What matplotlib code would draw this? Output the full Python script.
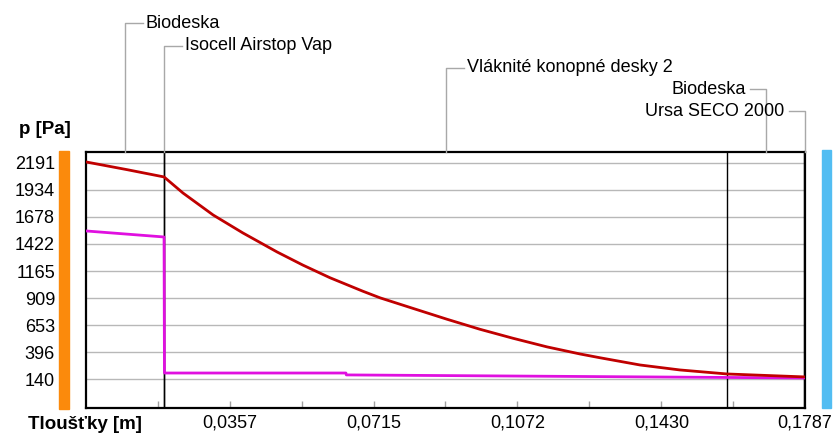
import matplotlib
matplotlib.use("Agg")
import matplotlib.pyplot as plt
from matplotlib.lines import Line2D
import numpy as np

plt.rcParams['font.family'] = ['Liberation Sans Narrow', 'Liberation Sans', 'DejaVu Sans']

# Layers (name, thickness in m)
layer_names = ["Biodeska", "Isocell Airstop Vap", "Vláknité konopné desky 2", "Biodeska", "Ursa SECO 2000"]
layer_thick = [0.0193, 0.0002, 0.1398, 0.0192, 0.0002]

# Saturated vapour pressure (red)
psat_x = [0.0, 0.0102, 0.0194, 0.0241, 0.0316, 0.0390, 0.0475, 0.0539, 0.0606, 0.0688,
          0.0731, 0.0813, 0.0897, 0.0979, 0.1061, 0.1146, 0.1228, 0.1278, 0.1377,
          0.1476, 0.1593, 0.1787]
psat_y = [2198, 2125, 2056, 1904, 1696, 1526, 1346, 1222, 1103, 975,
          912, 812, 710, 615, 530, 448, 381, 345, 277,
          230, 192, 164]

# Partial vapour pressure (magenta)
p_x = [0.0, 0.0102, 0.0194, 0.0195, 0.0646, 0.0647, 0.1787]
p_y = [1545, 1515, 1488, 201, 201, 183, 154]

y_ticks = [140, 396, 653, 909, 1165, 1422, 1678, 1934, 2191]
x_ticks = [0.0357, 0.0715, 0.1072, 0.1430, 0.1787]
x_tick_labels = ["0,0357", "0,0715", "0,1072", "0,1430", "0,1787"]
x_minor = [0.01787 * i for i in range(1, 10)]

W, H = 833, 436
fig = plt.figure(figsize=(W / 100, H / 100), dpi=100)
L, R, T, B = 86, 805, 152, 408
ax = fig.add_axes([L / W, 1 - B / H, (R - L) / W, (B - T) / H])
ax.set_xlim(0, 0.1787)
ax.set_ylim(-130, 2292)

for v in y_ticks:
    ax.axhline(v, color="#b8b8b8", lw=1.0, zorder=1)

bounds = np.cumsum(layer_thick)
for b in bounds[:-1]:
    ax.axvline(b, color="black", lw=1.0, zorder=2)

ax.plot(psat_x, psat_y, color="#c00000", lw=2.0, zorder=4, solid_joinstyle="round")
ax.plot(p_x, p_y, color="#e010e0", lw=2.0, zorder=3)

for s in ax.spines.values():
    s.set_linewidth(1.6)
    s.set_color("black")

ax.set_yticks([])
ax.set_xticks(x_minor)
ax.set_xticklabels([])
ax.tick_params(axis="x", direction="in", length=5, color="#a0a0a0", width=1)

def fx(xd):
    return L + xd / 0.1787 * (R - L)

def fig_pt(px, py):
    return px / W, 1 - py / H

# y tick labels (placed right-aligned left of the orange bar)
for v in y_ticks:
    py = B - (v + 130) / (2292 + 130) * (B - T)
    fig.text(*fig_pt(55, py + 2), str(v), ha="right", va="center", fontsize=13)

# x tick labels
for xv, lab in zip(x_ticks, x_tick_labels):
    X, Y = fig_pt(fx(xv), 423)
    fig.text(X, Y, lab, ha="center", va="center", fontsize=13)

fig.text(*fig_pt(85, 424), "Tloušťky [m]", ha="center", va="center", fontsize=13.5, fontweight="bold")
fig.text(*fig_pt(45, 130), "p [Pa]", ha="center", va="center", fontsize=13.5, fontweight="bold")

# side colour bars
fig.patches.append(plt.Rectangle(fig_pt(59, 409), 10 / W, 258 / H, transform=fig.transFigure,
                                 color="#fb8a0c", zorder=0))
fig.patches.append(plt.Rectangle(fig_pt(822, 408), 9 / W, 258 / H, transform=fig.transFigure,
                                 color="#52bdf2", zorder=0))

# layer leaders
starts = np.concatenate([[0], bounds[:-1]])
mids = [(s + t / 2) for s, t in zip(starts, layer_thick)]
leader_y = [23, 46, 68, 89, 111]
leader_side = ["r", "r", "r", "l", "l"]
gray = "#a8a8a8"
for name, m, ly, side in zip(layer_names, mids, leader_y, leader_side):
    x0 = fx(m)
    if side == "r":
        xs = [x0, x0, x0 + 18]
        tx, ha = x0 + 21, "left"
    else:
        xs = [x0, x0, x0 - 16]
        tx, ha = x0 - 20, "right"
    ys = [T, ly, ly]
    fig.add_artist(Line2D([x / W for x in xs], [1 - y / H for y in ys], color=gray, lw=1.0))
    fig.text(tx / W, 1 - ly / H, name, ha=ha, va="center", fontsize=13)

fig.savefig("out.png", dpi=100)
